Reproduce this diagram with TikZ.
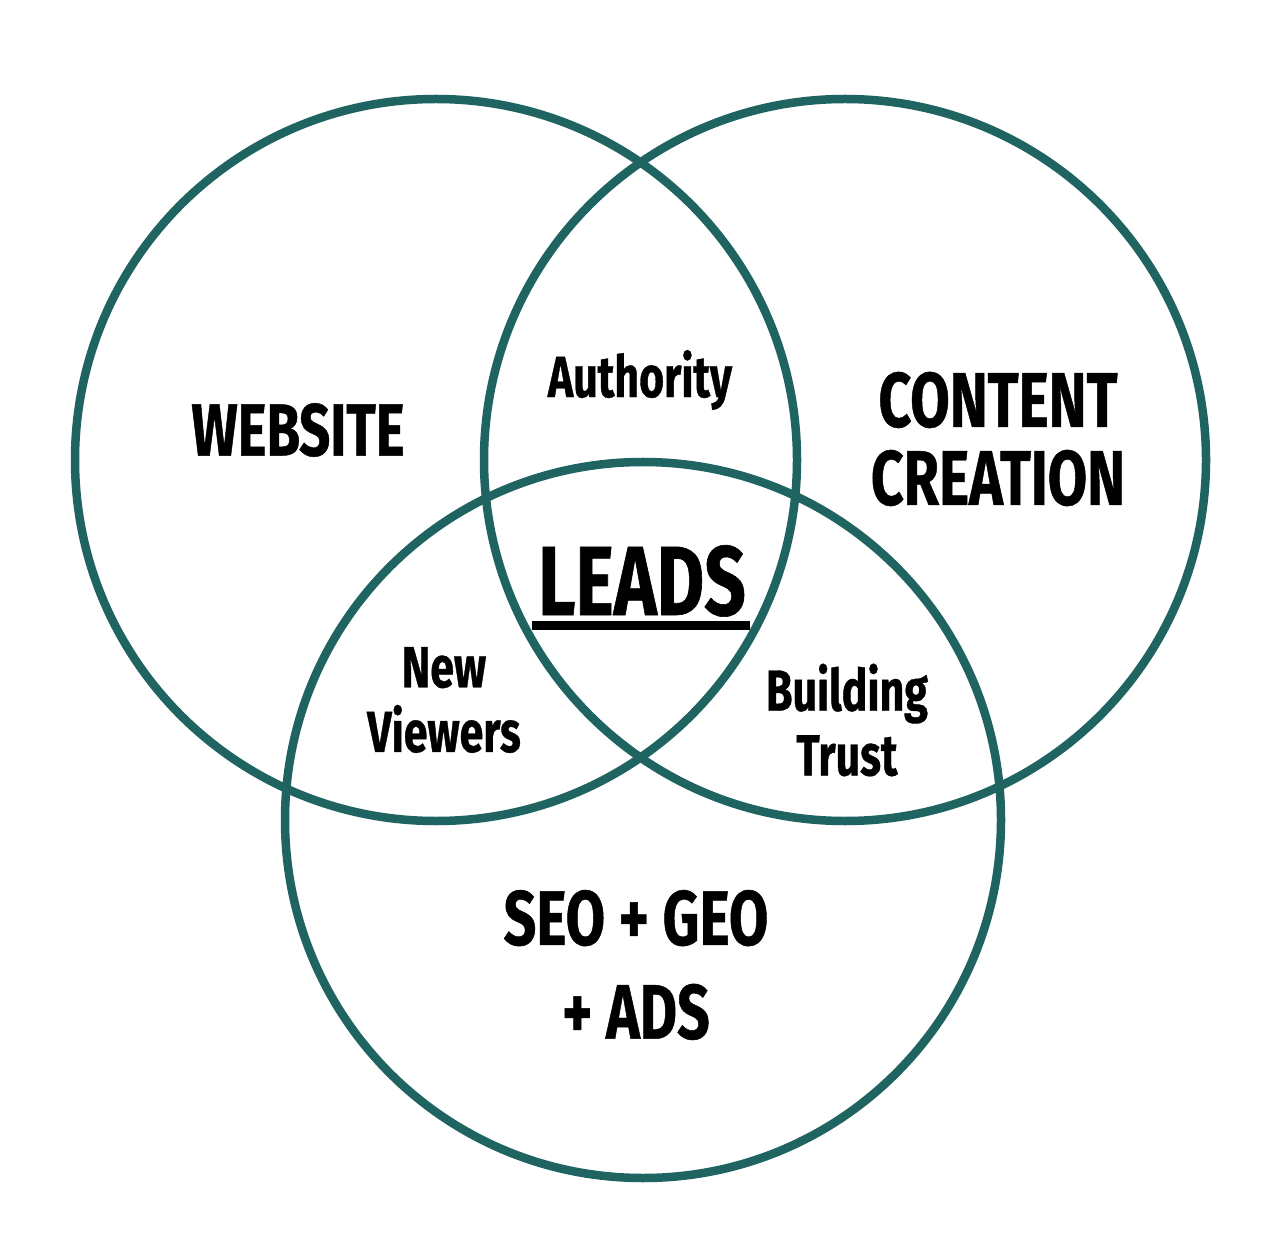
\documentclass[tikz,border=0pt]{standalone}
\usepackage{fontspec}
\usepackage{xcolor}
\usepackage{tikz}
\usetikzlibrary{positioning,calc}
\newfontfamily\vennfont{Fira Sans}[FakeStretch=0.74,FakeBold=0.6]
\definecolor{vennteal}{HTML}{1F6460}
\tikzset{
  venncircle/.style={
    draw=vennteal,
    circle,
    line width=0.085cm,
    inner sep=0pt,
    minimum size=7.22cm
  },
  vennbig/.style={
    align=center,
    inner sep=0pt,
    font=\vennfont\bfseries\fontsize{22}{22.2}\selectfont
  },
  vennsmall/.style={
    align=center,
    inner sep=0pt,
    font=\vennfont\bfseries\fontsize{16.5}{18.4}\selectfont
  },
  vennline/.style={
    line width=0.09cm
  }
}
\begin{document}
\begin{tikzpicture}
  \useasboundingbox (0,0) rectangle (12.82,12.58);
  \fill[white] (0,0) rectangle (12.82,12.58);

  \node[venncircle] (website) at (4.36,7.98) {};
  \node[venncircle] (content) at (8.45,7.98) {};
  \node[venncircle, minimum size=7.16cm] (seo) at (6.43,4.38) {};

  \node[vennbig, font=\vennfont\bfseries\fontsize{21}{22}\selectfont] (websitetext) at (2.98,8.28) {WEBSITE};
  \node[vennbig] (contenttext) at (9.98,8.19) {CONTENT\\CREATION};
  \node[vennbig, font=\vennfont\bfseries\fontsize{22}{26.7}\selectfont] (seotext) at (6.36,2.93) {SEO + GEO\\+ ADS};

  \node[vennsmall] (authority) at (6.40,8.78) {Authority};
  \node[vennsmall] (viewers) at (4.44,5.58) {New\\Viewers};
  \node[vennsmall] (trust) at (8.47,5.38) {Building\\Trust};

  \node[vennbig, font=\vennfont\bfseries\fontsize{28}{30}\selectfont, anchor=base] (leads) at (6.42,6.43) {LEADS};
  \draw[vennline] ([xshift=-0.05cm, yshift=-0.08cm]leads.south west) -- ([xshift=0.03cm, yshift=-0.08cm]leads.south east);
\end{tikzpicture}
\end{document}
